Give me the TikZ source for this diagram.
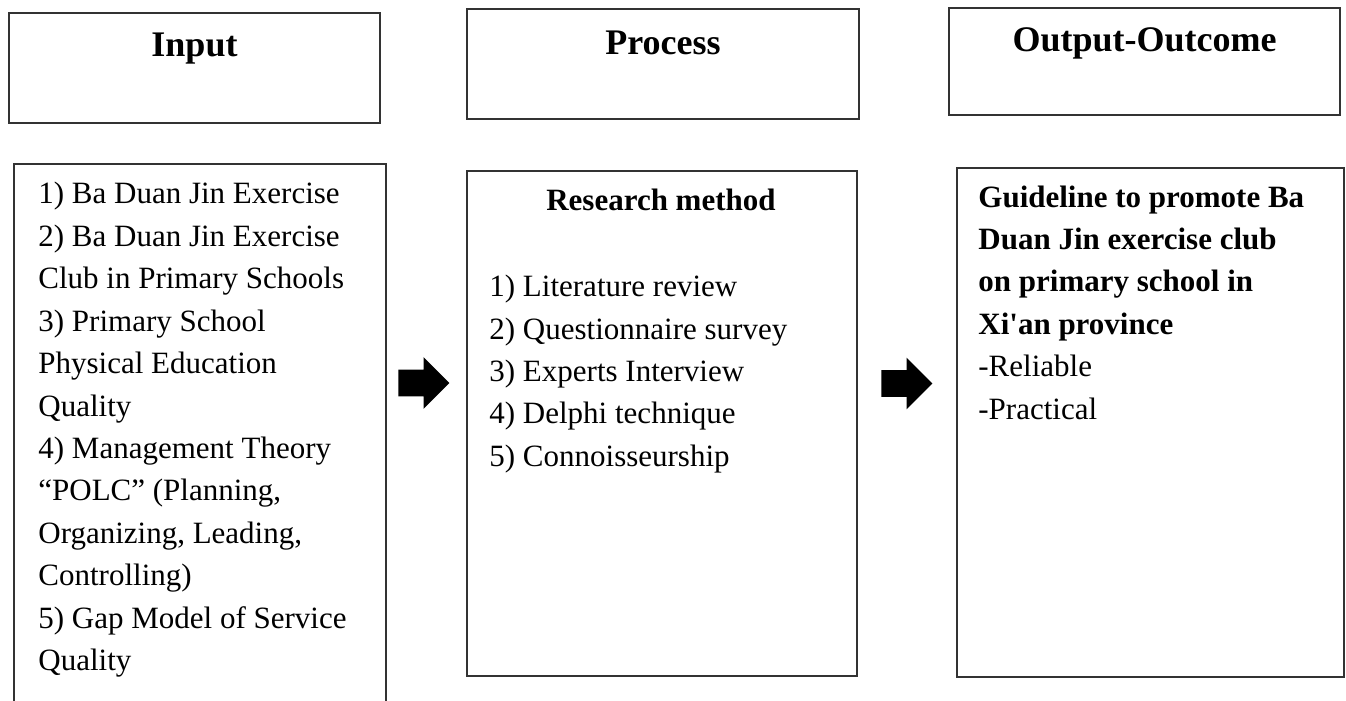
\documentclass[tikz,border=0pt]{standalone}
\usepackage{fontspec}
\setmainfont{Liberation Serif}
\usetikzlibrary{shapes.arrows}

\tikzset{
  frame/.style={draw=black!80, line width=0.9pt, inner sep=0pt},
  headtext/.style={anchor=base, inner sep=0pt, font=\fontsize{18}{21}\selectfont\bfseries},
  body/.style={anchor=base west, inner sep=0pt, font=\fontsize{15.5}{21}\selectfont},
  bodybold/.style={body, font=\fontsize{15.5}{21}\selectfont\bfseries},
  blockarrow/.style={single arrow, fill=black, draw=none, anchor=tail,
    inner xsep=0pt, inner ysep=6.5pt,
    minimum width=25pt, minimum height=25.5pt,
    single arrow head extend=6.25pt, single arrow tip angle=90}
}

\begin{document}
\begin{tikzpicture}[x=0.5pt, y=-0.5pt]
\useasboundingbox (0,0) rectangle (1346,701);
\clip (0,0) rectangle (1346,701);

% header boxes
\node[frame, minimum width=185.5pt, minimum height=55pt] (inhead) at (194.5,68) {};
\node[frame, minimum width=196pt, minimum height=55pt] (prochead) at (663,64) {};
\node[frame, minimum width=195.5pt, minimum height=53.5pt] (outhead) at (1144.5,61.5) {};

\node[headtext] (intitle) at (194.5,57) {Input};
\node[headtext] (proctitle) at (663,55) {Process};
\node[headtext] (outtitle) at (1144.5,52) {Output-Outcome};

% content boxes
\node[frame, minimum width=186pt, minimum height=288pt] (inbox) at (200,452) {};
\node[frame, minimum width=195pt, minimum height=252.5pt] (procbox) at (662,423.5) {};
\node[frame, minimum width=193.5pt, minimum height=254.5pt] (outbox) at (1150.5,422.5) {};

% input
\foreach \txt [count=\i from 0] in {1) Ba Duan Jin Exercise, 2) Ba Duan Jin Exercise,
    Club in Primary Schools, 3) Primary School, Physical Education, Quality,
    4) Management Theory, {“POLC” (Planning,}, {Organizing, Leading,},
    Controlling), 5) Gap Model of Service, Quality}
  \node[body] (in\i) at (38,204+42.4*\i) {\txt};

% process
\node[bodybold, anchor=base] (method) at (661,211) {Research method};
\foreach \txt [count=\i from 0] in {1) Literature review, 2) Questionnaire survey,
    3) Experts Interview, 4) Delphi technique, 5) Connoisseurship}
  \node[body] (proc\i) at (489,297+42.3*\i) {\txt};

% output
\foreach \txt [count=\i from 0] in {Guideline to promote Ba, Duan Jin exercise club,
    on primary school in, Xi\textquotesingle an province}
  \node[bodybold] (out\i) at (978,207+42.4*\i) {\txt};
\node[body] (rel) at (978,376.6) {-Reliable};
\node[body] (prac) at (978,419) {-Practical};

% arrows
\node[blockarrow] (arr1) at (398,383) {};
\node[blockarrow] (arr2) at (881,383.5) {};
\end{tikzpicture}
\end{document}
